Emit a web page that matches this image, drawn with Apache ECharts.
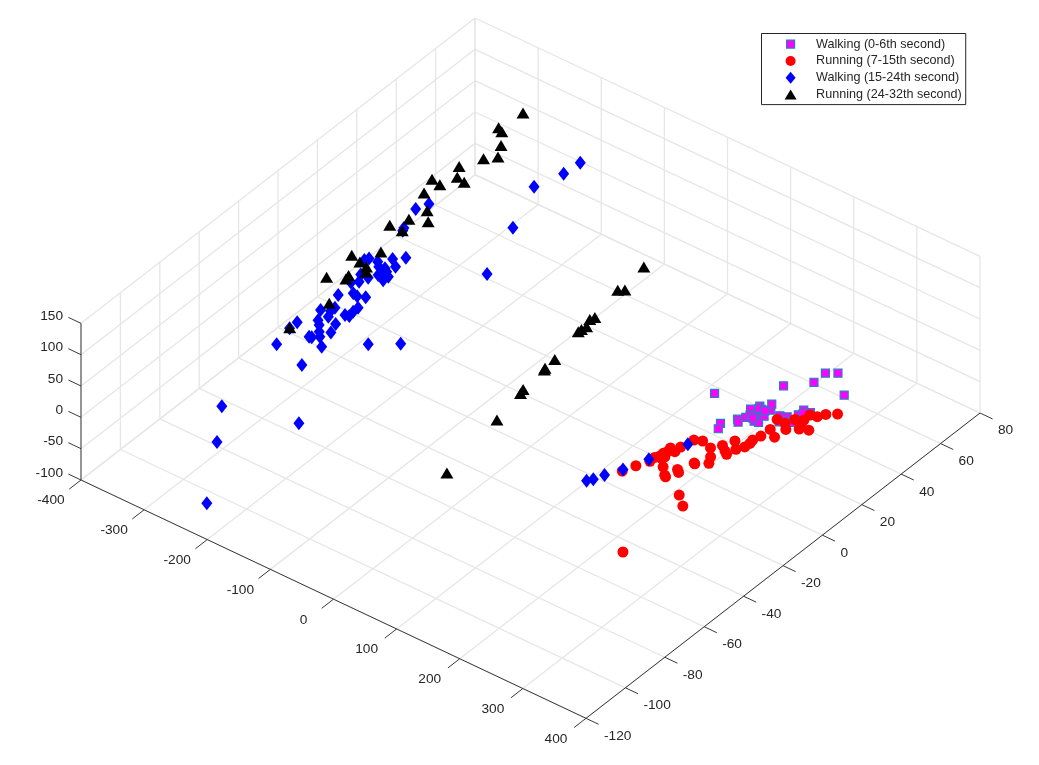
<!DOCTYPE html>
<html><head><meta charset="utf-8">
<style>html,body{margin:0;padding:0;background:#fff}#c{width:1039px;height:765px}</style>
<script src="https://cdn.jsdelivr.net/npm/echarts@6/dist/echarts.min.js"></script>
</head><body><div id="c"></div>
<script>
const xTicks = [-400,-300,-200,-100,0,100,200,300,400];
const yTicks = [-120,-100,-80,-60,-40,-20,0,20,40,60,80];
const zTicks = [-100,-50,0,50,100,150];
const seriesNames = ['Walking (0-6th second)','Running (7-15th second)','Walking (15-24th second)','Running (24-32th second)'];

// [x, y, z] — depth along the line of sight cannot be read from the picture, z is an estimate
const walkingEarly = [[193.3,11.5,0],[237.3,0.4,0],[241.9,-2.2,0],[248.7,5.4,0],[253,4.3,0],[254.6,7.7,0],[248.8,12,0],[255.7,9.5,0],[260.3,11,0],[267.5,7.8,0],[273.5,8.1,0],[254.1,15,0],[259.9,14,0],[271.1,11.7,0],[269.9,15.5,0],[263.3,18.1,0],[251.7,27.8,0],[277.1,35.1,0],[276.8,41,0],[289.2,43.4,0],[323.1,35.7,0],[286.1,14.9,0],[293,12.3,0],[294.6,15.9,0],[296.8,14.2,0],[306,14.5,0],[303.2,18.8,0],[302.4,21.8,0],[306,20.3,0],[312,22.1,0],[256.3,13.9,0],[262.4,8.8,0],[265.3,14,0]];
const runningEarly = [[242.1,-10.2,0],[258.6,-11.5,0],[267.3,-8.2,0],[273.9,-4,0],[285.5,-7.2,0],[291.1,-4.5,0],[291.7,-2.1,0],[290.1,-0.2,0],[293.2,3,0],[308,5.2,0],[293.9,7.5,0],[288.1,12.9,0],[309.3,10.5,0],[300.6,12.8,0],[305.5,16.3,0],[322,13.2,0],[317.1,16,0],[315.2,17.8,0],[332.9,14.6,0],[314.7,21,0],[324.1,21.7,0],[329.6,24.3,0],[340.7,26.7,0],[201.2,-37.9,0],[207.8,-33.1,0],[216,-28.6,0],[215.8,-26.1,0],[219.2,-24.5,0],[219,-22.8,0],[220.9,-21.4,0],[219.2,-19.2,0],[228.4,-19.9,0],[228.2,-16.9,0],[236,-28.3,0],[248.2,-31.4,0],[251.1,-31.9,0],[253.5,-26.6,0],[258.3,-27.6,0],[261.8,-20.8,0],[263.4,-21,0],[232.3,-11.5,0],[270,-15.1,0],[276.7,-18.1,0],[276.5,-9.9,0],[282.6,-11,0],[287.7,-36.7,0],[305.3,-40.5,0],[304.7,-70.7,0],[223.7,-25.2,0],[225,-23.9,0]];
const walkingLate = [[-300.1,-52.7,0],[-307.8,-39.8,0],[-307.7,-43.7,0],[-277.7,-43.4,0],[-274.5,-43.1,0],[-290,-34.9,0],[-282.7,-36.7,0],[-274.1,-39.4,0],[-267.2,-41.3,0],[-252.8,-45,0],[-261.9,-37.4,0],[-267.8,-33.1,0],[-300.4,-30.3,0],[-284.4,-31.5,0],[-289.2,-28.8,0],[-289.2,-26.6,0],[-302.1,-20.8,0],[-270.1,-27.6,0],[-264.6,-27.2,0],[-266.2,-24.7,0],[-266.3,-22.2,0],[-289.5,-17.2,0],[-282.1,-17.6,0],[-272.3,-16.4,0],[-305.7,-13.2,0],[-298.4,-11.4,0],[-306.1,-8.1,0],[-294.6,-8,0],[-209.9,-35.1,0],[-178.8,-28.6,0],[-320.9,-1.5,0],[-318.2,0,0],[-305.7,0.4,0],[-298,-1.5,0],[-290.1,-0.9,0],[-285.3,-3.4,0],[-288.2,-5,0],[-276.1,-3.7,0],[-276.8,-6.1,0],[-294.3,4.3,0],[-281.5,1.7,0],[-282.9,7.4,0],[-284.1,-2,0],[-320.4,17.8,0],[-322.6,19.1,0],[-335.1,29.1,0],[-328.4,33.7,0],[-215.7,40.2,0],[-246.8,60.9,0],[-234.3,71.9,0],[-232,79.6,0],[-182.4,16.4,0],[-248.9,-56.3,0],[-275.5,-88.4,0],[-234.8,-103.9,0],[-178.1,-80.5,0],[-206.9,-118,-50],[178.4,-48.7,0],[183.1,-46.8,0],[188.8,-42.9,0],[199.9,-37.1,0],[212.5,-28,0],[231.8,-14.4,0]];
const runningLate = [[-311.8,76.1,50],[-356.7,78.1,0],[-348.5,77.1,0],[-331.9,71.4,0],[-332.2,62.6,0],[-320.2,66.1,0],[-346.5,54.8,0],[-334.5,50,0],[-321.3,49.3,0],[-357,44.4,0],[-342.1,43.6,0],[-347.1,37.2,0],[-321.6,30.6,0],[-306.6,26.3,0],[-328.7,23.6,0],[-340,17.5,0],[-320.8,17.7,0],[-314.7,4.9,0],[-339.3,-2,0],[-322.7,-3.2,0],[-310.1,-3.9,0],[-336.1,-15.8,0],[-316.9,-10.8,0],[-314.9,-12.8,0],[-300.4,-25.9,0],[-308.4,-43.4,0],[-304.1,-6.1,0],[-36.7,49.3,0],[-33.1,34.9,0],[-26.2,36.3,0],[-21,19.4,0],[-23.4,17.6,0],[-17.3,14,0],[-18.9,11.9,0],[-19.2,10.4,0],[-7.1,-5.4,0],[-5.4,-10.9,0],[-4,-11.7,0],[-0.1,-23.7,0],[2.3,-25.8,0],[13,-41.2,0],[31.1,-72.4,0]];

// orthographic view of the MATLAB 3-D axes box
const X0=-400,X1=400,Y0=-120,Y1=80,Z0=-100,Z1=150;
function project(x,y,z){
  return [81+(x-X0)*0.63125+(y-Y0)*1.97,
          480+(x-X0)*0.2979-(y-Y0)*1.5265-(z-Z0)*0.6267];
}
function seg(a,b){const p=project.apply(null,a),q=project.apply(null,b);return [p[0],p[1],q[0],q[1]];}

const gridSegs=[],axisSegs=[],labels=[];
xTicks.forEach(v=>{
  gridSegs.push(seg([v,Y0,Z0],[v,Y1,Z0]));
  gridSegs.push(seg([v,Y1,Z0],[v,Y1,Z1]));
  axisSegs.push(seg([v,Y0,Z0],[v,Y0-6,Z0]));
  const p=project(v,Y0,Z0);
  labels.push([p[0]-30,p[1]+20.7,String(v),'center']);
});
yTicks.forEach(v=>{
  gridSegs.push(seg([X0,v,Z0],[X1,v,Z0]));
  gridSegs.push(seg([X0,v,Z0],[X0,v,Z1]));
  axisSegs.push(seg([X1,v,Z0],[X1+20,v,Z0]));
  const p=project(X1,v,Z0);
  labels.push([p[0]+18,p[1]+17.7,String(v),'left']);
});
zTicks.forEach(v=>{
  gridSegs.push(seg([X0,Y0,v],[X0,Y1,v]));
  gridSegs.push(seg([X0,Y1,v],[X1,Y1,v]));
  axisSegs.push(seg([X0,Y0,v],[X0-20,Y0,v]));
  const p=project(X0,Y0,v);
  labels.push([p[0]-18,p[1]-7,String(v),'right']);
});
axisSegs.push(seg([X0,Y0,Z0],[X1,Y0,Z0]));
axisSegs.push(seg([X1,Y0,Z0],[X1,Y1,Z0]));
axisSegs.push(seg([X0,Y0,Z0],[X0,Y0,Z1]));

function lineSeries(data,color,width,z){
  return {type:'custom',silent:true,z:z,data:data,animation:false,
    encode:{x:[0,2],y:[1,3]},clip:false,
    renderItem:(params,api)=>{
      const a=api.coord([api.value(0),api.value(1)]),b=api.coord([api.value(2),api.value(3)]);
      return {type:'line',shape:{x1:a[0],y1:a[1],x2:b[0],y2:b[1]},style:{stroke:color,lineWidth:width,fill:null}};
    }};
}
const font='"Liberation Sans", Arial, sans-serif';
const labelSeries={type:'custom',silent:true,z:5,animation:false,clip:false,data:labels,
  encode:{x:0,y:1},
  renderItem:(params,api)=>{
    const a=api.coord([api.value(0),api.value(1)]);
    const row=labels[params.dataIndex];
    return {type:'text',x:a[0],y:a[1],style:{text:row[2],fill:'#262626',font:'13.7px '+font,align:row[3],verticalAlign:'middle'}};
  }};
function marks(name,data,symbol,size,style,z){
  return {name:name,type:'scatter',data:data.map(d=>project(d[0],d[1],d[2])),symbol:symbol,symbolSize:size,itemStyle:Object.assign({opacity:1},style),z:z,clip:false,silent:true,animation:false};
}
const chart=echarts.init(document.getElementById('c'),null,{renderer:'canvas'});
chart.setOption({
  animation:false,
  backgroundColor:'#ffffff',
  tooltip:{show:false},
  grid:{left:0,right:0,top:0,bottom:0,containLabel:false},
  xAxis:{type:'value',min:0,max:1039,show:false},
  yAxis:{type:'value',min:0,max:765,inverse:true,show:false},
  legend:{
    orient:'vertical',left:761.5,top:33.5,selectedMode:false,
    padding:[4,4,3.5,22.5],itemGap:3.8,itemWidth:41,itemHeight:12,
    borderColor:'#262626',borderWidth:1,backgroundColor:'#ffffff',
    textStyle:{fontFamily:font,fontSize:12.6,color:'#262626'},
    data:[
      {name:seriesNames[0],icon:'path://M0 0M12 12M2 2L10 2L10 10L2 10Z',itemStyle:{color:'#ff00ff',borderColor:'#2a7cc4',borderWidth:1.2,opacity:1}},
      {name:seriesNames[1],icon:'path://M0 0M12 12M11 6A5 5 0 1 1 1 6A5 5 0 1 1 11 6Z',itemStyle:{color:'#ff0000',opacity:1}},
      {name:seriesNames[2],icon:'path://M0 0M12 12M6 0L11 6L6 12L1 6Z',itemStyle:{color:'#0000ff',opacity:1}},
      {name:seriesNames[3],icon:'path://M0 0M12 12M6 1L12 11L0 11Z',itemStyle:{color:'#000000',opacity:1}}
    ]
  },
  series:[
    lineSeries(gridSegs,'#e6e6e6',1.3,1),
    lineSeries(axisSegs,'#3a3a3a',1,2),
    labelSeries,
    marks(seriesNames[0],walkingEarly,'rect',8,{color:'#ff00ff',borderColor:'#2a7cc4',borderWidth:1.2},10),
    marks(seriesNames[1],runningEarly,'circle',11,{color:'#ff0000'},11),
    marks(seriesNames[2],walkingLate,'diamond',[11,14],{color:'#0000ff'},12),
    marks(seriesNames[3],runningLate,'triangle',[13,11],{color:'#000000'},13)
  ]
});
</script></body></html>
